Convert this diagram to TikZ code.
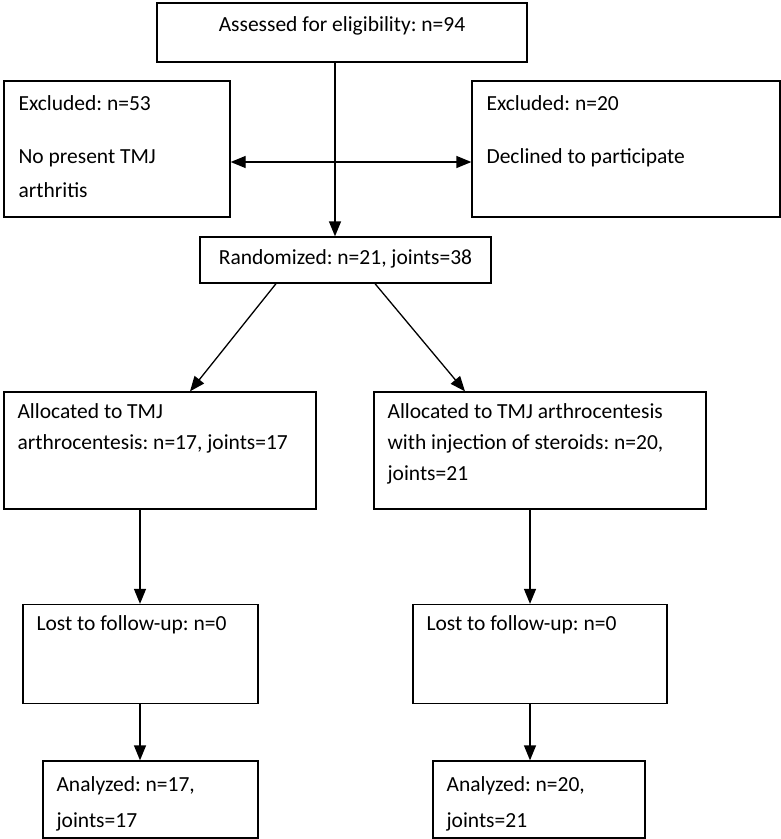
\documentclass[tikz,border=0pt]{standalone}
\usepackage{fontspec}
\setmainfont{Carlito}
\frenchspacing
\usetikzlibrary{arrows.meta,calc}

\begin{document}
\begin{tikzpicture}[x=1pt,y=-1pt,box/.style={draw=black,line width=1.3pt,inner sep=0pt},txt/.style={align=left,inner sep=0pt,font=\fontsize{21.5}{31}\selectfont},tl/.style={txt,anchor=base west,xshift=14pt},tc/.style={txt,anchor=base},arr/.style={line width=1.3pt,-{Triangle[length=15pt,width=12pt]}},darr/.style={line width=1.3pt,{Triangle[length=15pt,width=12pt]}-{Triangle[length=15pt,width=12pt]}}]
\def\gap{22pt};
% base anchor sits on the last line, so shifts count every line

\useasboundingbox (0,0) rectangle (781,839);

\node[box,minimum width=370pt,minimum height=59pt,label={[tc,yshift=-29pt]north:{Assessed for eligibility: n=94}}] (elig) at (342,32.5) {};
\node[box,minimum width=226pt,minimum height=136pt,label={[tl,xshift=1pt,yshift=-117pt]north west:{Excluded: n=53\\[\gap]No present TMJ\\[3pt]arthritis}}] (exA) at (117,149) {};
\node[box,minimum width=308pt,minimum height=136pt,label={[tl,xshift=1pt,yshift=-83pt]north west:{Excluded: n=20\\[\gap]Declined to participate}}] (exB) at (626,149) {};
\node[box,minimum width=291pt,minimum height=46pt,label={[tc,yshift=-28pt]north:{Randomized: n=21, joints=38}}] (rand) at (345.5,260) {};

\node[box,minimum width=312pt,minimum height=117pt,label={[tl,yshift=-58pt]north west:{Allocated to TMJ\\arthrocentesis: n=17, joints=17}}] (alA) at (160,450.5) {};
\node[box,minimum width=332pt,minimum height=117pt,label={[tl,yshift=-89pt]north west:{Allocated to TMJ arthrocentesis\\with injection of steroids: n=20,\\joints=21}}] (alB) at (540,450.5) {};

\node[box,minimum width=235pt,minimum height=99pt,label={[tl,yshift=-27pt]north west:{Lost to follow-up: n=0}}] (lostA) at (140.5,654) {};
\node[box,minimum width=254pt,minimum height=99pt,label={[tl,yshift=-27pt]north west:{Lost to follow-up: n=0}}] (lostB) at (540,654) {};

\node[box,minimum width=215pt,minimum height=77pt,label={[tl,yshift=-67pt]north west:{Analyzed: n=17,\\[5pt]joints=17}}] (anA) at (150.5,799.5) {};
\node[box,minimum width=212pt,minimum height=77pt,label={[tl,yshift=-67pt]north west:{Analyzed: n=20,\\[5pt]joints=21}}] (anB) at (539,799.5) {};

% connectors
\draw[arr] ([xshift=-7pt]elig.south) -- ([xshift=-10.5pt]rand.north);
\draw[darr] ($(exA.east)+(0,13)$) -- ($(exB.west)+(0,13)$);
\draw[arr] ([xshift=-69.5pt]rand.south) -- ([xshift=30pt]alA.north);
\draw[arr] ([xshift=29.5pt]rand.south) -- ([xshift=-75pt]alB.north);
\draw[arr] ([xshift=-20pt]alA.south) -- ([xshift=-0.5pt]lostA.north);
\draw[arr] ([xshift=-10pt]alB.south) -- ([xshift=-10pt]lostB.north);
\draw[arr] ([xshift=-0.5pt]lostA.south) -- ([xshift=-10.5pt]anA.north);
\draw[arr] ([xshift=-10pt]lostB.south) -- ([xshift=-9pt]anB.north);

\end{tikzpicture}
\end{document}
